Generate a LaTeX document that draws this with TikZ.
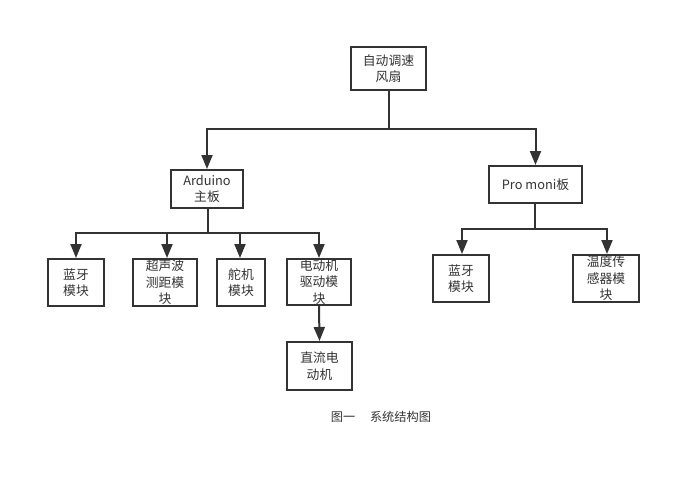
\documentclass[tikz,border=0pt]{standalone}
\usepackage{fontspec}
\setmainfont{Noto Sans CJK SC}
\usetikzlibrary{arrows.meta}
\definecolor{ink}{HTML}{333333}
\begin{document}
\begin{tikzpicture}[x=1pt,y=-1pt,
  box/.style={draw=ink,line width=2pt,fill=white,text=ink,align=center,inner sep=0pt,
    font=\fontsize{12.8}{16.5}\selectfont},
  arr/.style={draw=ink,line width=2pt,-{Triangle[length=14pt,width=11pt]}},
  ln/.style={draw=ink,line width=2pt}]
\useasboundingbox (0,0) rectangle (700,498);
\node[box,minimum width=75pt,minimum height=43pt] (top) at (388.5,68.5) {自动调速\\风扇};
\node[box,minimum width=72pt,minimum height=38pt] (ard) at (207,189) {Arduino\\主板};
\node[box,minimum width=93pt,minimum height=37pt] (pro) at (535.5,184.5) {Pro moni板};
\node[box,minimum width=56pt,minimum height=47pt] (b1) at (76,282.5) {蓝牙\\模块};
\node[box,minimum width=64pt,minimum height=47pt] (b2) at (165,282.5) {超声波\\测距模\\块};
\node[box,minimum width=48pt,minimum height=47pt] (b3) at (241,282.5) {舵机\\模块};
\node[box,minimum width=64pt,minimum height=46pt] (b4) at (319,282) {电动机\\驱动模\\块};
\node[box,minimum width=65pt,minimum height=48pt] (b5) at (319.5,366) {直流电\\动机};
\node[box,minimum width=56pt,minimum height=47pt] (b6) at (461,278.5) {蓝牙\\模块};
\node[box,minimum width=66pt,minimum height=47pt] (b7) at (606,278.5) {温度传\\感器模\\块};
\node[text=ink,font=\fontsize{12.2}{14}\selectfont] (cap) at (381,417) {图一\hspace{1.2em}系统结构图};
\coordinate (j1) at (388,129);
\coordinate (j2) at (208,233);
\coordinate (j3) at (535,229);
% top level
\draw[ln] (top.south) -- (top.south |- j1);
\draw[arr] (top.south |- j1) -| (ard.north);
\draw[arr] (top.south |- j1) -| (pro.north);
% arduino
\draw[ln] (ard.south -| j2) -- (j2);
\draw[arr] (j2) -| (b1.north);
\draw[arr] (j2) -| ([xshift=2pt]b2.north);
\draw[arr] (j2) -| ([xshift=-1pt]b3.north);
\draw[arr] (j2) -| (b4.north);
\draw[arr] (b4.south) -- (b5.north);
% pro
\draw[ln] (pro.south -| j3) -- (j3);
\draw[arr] (j3) -| ([xshift=1pt]b6.north);
\draw[arr] (j3) -| ([xshift=1pt]b7.north);
\end{tikzpicture}
\end{document}
